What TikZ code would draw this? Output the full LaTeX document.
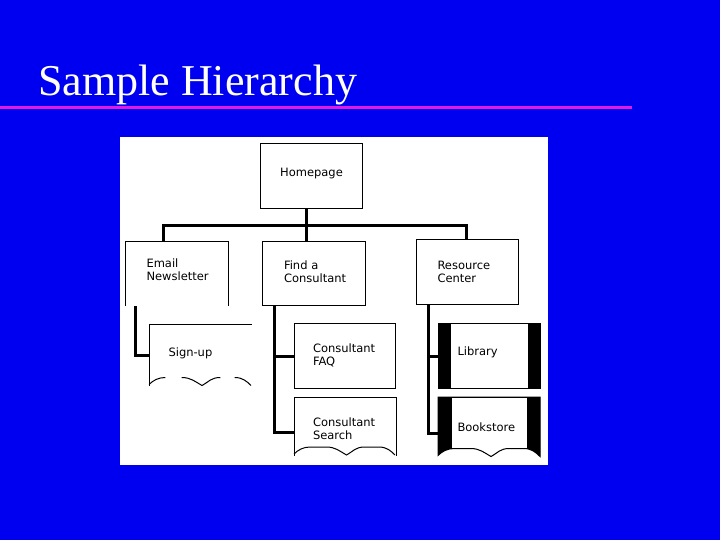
\documentclass[tikz,border=0pt]{standalone}
\usepackage{fontspec}
\setmainfont{Liberation Serif}
\newfontfamily\boxfont{DejaVu Sans}
\pgfdeclarelayer{panel}
\pgfdeclarelayer{background}
\pgfsetlayers{panel,background,main}
\definecolor{slideblue}{RGB}{0,0,240}
\definecolor{rulemag}{RGB}{225,25,225}
\newcommand\setwave[3]{%
  \pgfmathsetmacro\wL{#1}%
  \pgfmathsetmacro\wR{#2}%
  \pgfmathsetmacro\wB{#3}%
  \pgfmathsetmacro\wW{#2-#1}%
  \pgfmathsetmacro\wH{#3-7}%
  \pgfmathsetmacro\wBl{#3+1}%
  \pgfmathsetmacro\wvxa{#1+0.16*\wW}%
  \pgfmathsetmacro\wvxb{#1+0.32*\wW}%
  \pgfmathsetmacro\wvxc{#1+0.52*\wW}%
  \pgfmathsetmacro\wvxd{#1+0.70*\wW}%
  \pgfmathsetmacro\wvxe{#1+0.84*\wW}%
  \pgfmathsetmacro\wvca{#1+0.04*\wW}%
  \pgfmathsetmacro\wvcb{#1+0.09*\wW}%
  \pgfmathsetmacro\wvcc{\wvxb+0.09*\wW}%
  \pgfmathsetmacro\wvcd{\wvxc-0.07*\wW}%
  \pgfmathsetmacro\wvce{\wvxc+0.07*\wW}%
  \pgfmathsetmacro\wvcf{\wvxd-0.09*\wW}%
  \pgfmathsetmacro\wvcg{\wvxe+0.08*\wW}%
  \pgfmathsetmacro\wvch{#2-0.04*\wW}%
  \pgfmathsetmacro\wvyq{#3-4}%
  \pgfmathsetmacro\wvyr{#3-3}%
}
\begin{document}
\begin{tikzpicture}[x=1pt,y=-1pt,
  box/.style={draw=black, line width=1pt, fill=white, minimum width=102pt,
    minimum height=65pt, inner sep=0pt, anchor=north west,
    font=\boxfont\fontsize{11.5}{13}\selectfont,
    text width=64pt, align=left},
  toprow/.style={text width=60pt},
  textup/.style={execute at end node={\endgraf\vspace*{#1}}},
  thinline/.style={draw=black, line width=1pt},
  conn/.style={draw=black, line width=3pt},
  wavetail/.style={insert path={.. controls (\wvca,\wvyq) and (\wvcb,\wH) .. (\wvxa,\wH)
      -- (\wvxb,\wH) .. controls (\wvcc,\wH) and (\wvcd,\wvyr) .. (\wvxc,\wBl)
      .. controls (\wvce,\wvyr) and (\wvcf,\wH) .. (\wvxd,\wH)
      -- (\wvxe,\wH) .. controls (\wvcg,\wH) and (\wvch,\wvyr) .. (\wR,\wBl)}},
  wavegap/.style={insert path={(\wL,\wB) .. controls (\wvca,\wvyq) and (\wvcb,\wH) .. (\wvxa,\wH)
      (\wvxb,\wH) .. controls (\wvcc,\wH) and (\wvcd,\wvyr) .. (\wvxc,\wBl)
      .. controls (\wvce,\wvyr) and (\wvcf,\wH) .. (\wvxd,\wH)
      (\wvxe,\wH) .. controls (\wvcg,\wH) and (\wvch,\wvyr) .. (\wR,\wBl)}}]

\useasboundingbox (0,0) rectangle (720,540);

\begin{pgfonlayer}{panel}
  \fill[slideblue] (0,0) rectangle (720,540);
  \fill[rulemag] (0,106) rectangle (632,109.5);
  \fill[white] (120,137) rectangle (548,465);
\end{pgfonlayer}

\node[anchor=base west, inner sep=0pt, text=white,
  font=\fontsize{44}{44}\selectfont] (title) at (38,96) {Sample Hierarchy};

% boxes
\node[box, align=center, text width=90pt, textup=4pt] (home) at (260,143) {Homepage};
\node[box, toprow, draw=none, fill=none, minimum height=64pt, textup=7pt] (email) at (125,241) {Email\\\mbox{Newsletter}};
\node[box, toprow, minimum width=103pt, minimum height=64pt, textup=3pt] (find) at (262,241) {Find a\\\mbox{Consultant}};
\node[box, toprow] (res) at (416,239) {Resource\\Center};

\node[box, draw=none, fill=none, minimum height=61pt, textup=4pt] (sign) at (149,324) {Sign-up};
\node[box, minimum width=101pt, textup=2pt] (faq) at (294,323) {Consultant\\FAQ};
\node[box, draw=none, fill=none, minimum width=101pt, minimum height=58pt, textup=-5pt] (search) at (294,397) {Consultant\\Search};

\node[box, fill=none, textup=7pt] (lib) at (438,323) {Library};
\node[box, draw=none, fill=none, minimum height=59pt] (book) at (438,397) {Bookstore};

\begin{pgfonlayer}{background}
  % open-bottom email box
  \draw[thinline] (email.south west) -- (email.north west) -- (email.north east) -- (email.south east);
  % sign-up document
  \draw[thinline] (sign.south west) -- (sign.north west) -- (sign.north east);
  \setwave{149}{251}{384.5}
  \draw[thinline] [wavegap];
  % consultant search document
  \draw[thinline] (search.south west) -- (search.north west) -- (search.north east) -- (search.south east);
  \setwave{294}{395}{454}
  \draw[thinline] (\wL,\wB) [wavetail];
  % library bars
  \fill[white] (lib.north west) rectangle (lib.south east);
  \fill[black] (lib.north west) rectangle ([xshift=13pt]lib.south west);
  \fill[black] ([xshift=-13pt]lib.north east) rectangle (lib.south east);
  % bookstore
  \setwave{438}{540}{455.5}
  \fill[black] (438,397) -- (\wL,\wB) [wavetail] -- (540,397) -- cycle;
  \begin{scope}
    \clip (438,397) -- (\wL,\wB) [wavetail] -- (540,397) -- cycle;
    \fill[white] (452,398) rectangle (527,470);
  \end{scope}
  \draw[thinline] (438,397) -- (\wL,\wB) [wavetail] -- (540,397) -- cycle;
\end{pgfonlayer}

% connectors
\coordinate (bar) at (0,225.5);
\draw[conn] ([xshift=-5pt]home.south) -- ([xshift=-7.5pt]find.north);
\draw[conn] ([xshift=-13pt]email.north) |- ([xshift=-1pt]res.north |- bar) -- ([xshift=-1pt]res.north);

\draw[conn] ([xshift=10pt]email.south west) |- (sign.west);

\draw[conn] ([xshift=12pt]find.south west) |- ([yshift=-6pt]search.west);
\draw[conn] ([xshift=12pt]find.south west |- faq.west) -- (faq.west);

\draw[conn] ([xshift=12pt]res.south west) |- ([yshift=-6pt]book.west);
\draw[conn] ([xshift=12pt]res.south west |- lib.west) -- (lib.west);

\end{tikzpicture}
\end{document}
